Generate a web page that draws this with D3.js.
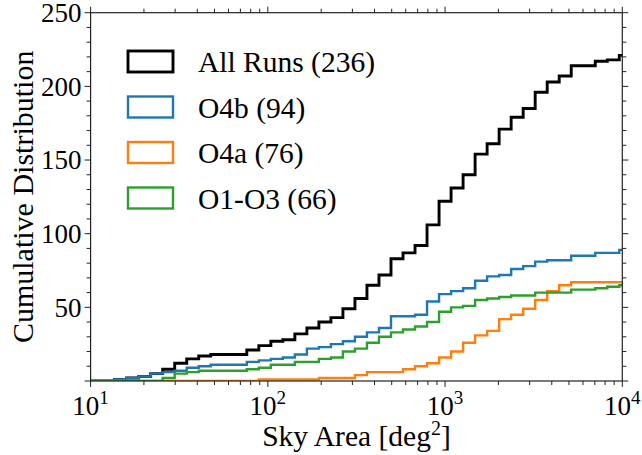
<!DOCTYPE html>
<html>
<head>
<meta charset="utf-8">
<script src="https://cdn.jsdelivr.net/npm/d3@7"></script>
<style>
  body { margin: 0; background: #fff; }
  svg text { font-family: "Liberation Serif", "DejaVu Serif", serif; fill: #000; }
</style>
</head>
<body>
<svg id="chart" width="642" height="455"></svg>
<script>
// Logarithmic sky-area bins: 59 bins spanning 10^1 .. 10^5 deg^2
const binCount = 59;
const logMin = 1;
const logMax = 5;

// Cumulative number of events per bin (first 45 bins, up to ~10^4 deg^2)
const allRuns = [0,0,1,2,3,5,8,12,15,17,18,18,18,21,24,27,28,32,36,40,43,49,56,65,72,83,87,92,106,122,131,140,154,161,171,179,185,196,203,207,214,214,217,218,221];
const o4b     = [0,0,1,2,3,5,6,7,9,10,11,11,11,13,14,15,16,18,22,23,25,27,30,33,36,44,44,45,54,59,61,63,68,71,72,76,78,81,82,82,85,85,87,87,89];
const o4a     = [0,0,0,0,0,0,0,0,0,0,0,0,0,0,1,1,1,1,1,2,2,2,4,6,6,6,8,10,12,16,20,26,31,34,42,45,49,55,61,65,67,67,67,67,67];
const o1o3    = [0,0,0,0,0,0,2,5,6,7,7,7,7,8,9,11,11,13,13,15,16,20,22,26,30,33,35,37,40,47,50,51,55,56,57,58,58,60,60,60,62,62,63,64,65];

const seriesNames  = ["All Runs", "O4b", "O4a", "O1-O3"];
const seriesTotals = [236, 94, 76, 66];
const seriesColors = ["#000000", "#1f77b4", "#ff7f0e", "#2ca02c"];
const seriesWidths = [2.9, 2.4, 2.4, 2.4];
const seriesValues = [allRuns, o4b, o4a, o1o3];

const xTickValues = [1e1, 1e2, 1e3, 1e4];
const xTickExponents = ["1", "2", "3", "4"];
const yTickValues = [50, 100, 150, 200, 250];

const binEdges = d3.range(binCount + 1).map(i => 10 ** (logMin + (logMax - logMin) * i / binCount));

const svg = d3.select("#chart");
const plotLeft = 90.6, plotRight = 622.3, plotTop = 12.7, plotBottom = 381;

const x = d3.scaleLog().domain([1e1, 1e4]).range([plotLeft, plotRight]);
const y = d3.scaleLinear().domain([0, 250]).range([plotBottom, plotTop]);

svg.append("defs").append("clipPath").attr("id", "plotClip")
  .append("rect")
  .attr("x", plotLeft).attr("y", plotTop)
  .attr("width", plotRight - plotLeft).attr("height", plotBottom - plotTop);

// Step outlines of the cumulative histograms
const stepLine = d3.line().x(d => x(d[0])).y(d => y(d[1]));
function stepPoints(values) {
  const pts = [[binEdges[0], 0]];
  values.forEach((v, k) => {
    pts.push([binEdges[k], v]);
    pts.push([binEdges[k + 1], v]);
  });
  return pts;
}

const plot = svg.append("g").attr("clip-path", "url(#plotClip)");
seriesValues.forEach((vals, i) => {
  plot.append("path")
    .attr("d", stepLine(stepPoints(vals)))
    .attr("fill", "none")
    .attr("stroke", seriesColors[i])
    .attr("stroke-width", seriesWidths[i])
    .attr("stroke-linejoin", "miter");
});

// Axes on all four sides, ticks pointing outward
const spineColor = "#222";
const majorLen = 6, minorLen = 4;
const xMinor = [];
[1e1, 1e2, 1e3].forEach(d => { for (let m = 2; m <= 9; m++) xMinor.push(d * m); });
const yMinor = d3.range(0, 251, 10).filter(v => v % 50 !== 0);
const yMajor = [0].concat(yTickValues);

const axisG = svg.append("g");
function xTicksAt(values, len) {
  values.forEach(v => {
    axisG.append("line").attr("x1", x(v)).attr("x2", x(v))
      .attr("y1", plotBottom).attr("y2", plotBottom + len)
      .attr("stroke", spineColor).attr("stroke-width", 1);
    axisG.append("line").attr("x1", x(v)).attr("x2", x(v))
      .attr("y1", plotTop).attr("y2", plotTop - len)
      .attr("stroke", spineColor).attr("stroke-width", 1);
  });
}
function yTicksAt(values, len) {
  values.forEach(v => {
    axisG.append("line").attr("x1", plotLeft).attr("x2", plotLeft - len)
      .attr("y1", y(v)).attr("y2", y(v))
      .attr("stroke", spineColor).attr("stroke-width", 1);
    axisG.append("line").attr("x1", plotRight).attr("x2", plotRight + len)
      .attr("y1", y(v)).attr("y2", y(v))
      .attr("stroke", spineColor).attr("stroke-width", 1);
  });
}
xTicksAt(xTickValues, majorLen);
xTicksAt(xMinor, minorLen);
yTicksAt(yMajor, majorLen);
yTicksAt(yMinor, minorLen);

axisG.append("rect")
  .attr("x", plotLeft).attr("y", plotTop)
  .attr("width", plotRight - plotLeft).attr("height", plotBottom - plotTop)
  .attr("fill", "none").attr("stroke", spineColor).attr("stroke-width", 1.2);

// Tick labels
const fs = 27;
yTickValues.forEach(v => {
  svg.append("text")
    .attr("x", plotLeft - 9).attr("y", y(v)).attr("dy", "0.34em")
    .attr("text-anchor", "end").attr("font-size", fs)
    .text(v);
});
xTickValues.forEach((v, i) => {
  const t = svg.append("text")
    .attr("x", x(v)).attr("y", 415)
    .attr("text-anchor", "middle").attr("font-size", fs);
  t.append("tspan").text("10");
  t.append("tspan").attr("dy", -11).attr("font-size", 19).text(xTickExponents[i]);
});

// Axis titles
const titleSize = 29.5;
const xt = svg.append("text")
  .attr("x", (plotLeft + plotRight) / 2).attr("y", 446)
  .attr("text-anchor", "middle").attr("font-size", titleSize);
xt.append("tspan").text("Sky Area [deg");
xt.append("tspan").attr("dy", -11).attr("font-size", 20).text("2");
xt.append("tspan").attr("dy", 11).text("]");

svg.append("text")
  .attr("transform", `translate(33,${(plotTop + plotBottom) / 2}) rotate(-90)`)
  .attr("text-anchor", "middle").attr("font-size", 30)
  .text("Cumulative Distribution");

// Legend
const legend = svg.append("g");
seriesNames.forEach((name, i) => {
  const cy = 61.5 + i * 45.5;
  legend.append("rect")
    .attr("x", 128).attr("y", cy - 10.5)
    .attr("width", 45).attr("height", 21)
    .attr("fill", "none")
    .attr("stroke", seriesColors[i])
    .attr("stroke-width", seriesWidths[i]);
  legend.append("text")
    .attr("x", 198).attr("y", cy + 10.5)
    .attr("font-size", titleSize)
    .text(`${name} (${seriesTotals[i]})`);
});
</script>
</body>
</html>
